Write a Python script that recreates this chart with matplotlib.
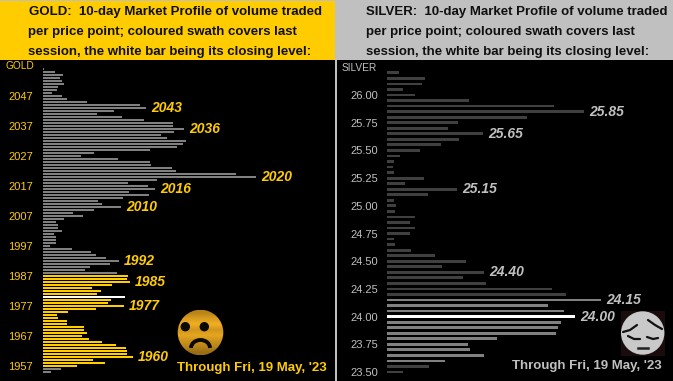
import numpy as np
import matplotlib
matplotlib.use('Agg')
import matplotlib.pyplot as plt
from matplotlib.patches import Circle, Rectangle, Arc

plt.rcParams['font.family'] = ['Liberation Sans', 'DejaVu Sans']

GOLD = '#FFCC00'
SILVER = '#C0C0C0'
W, H = 673, 381

# gold: one bar per price point, from 2056 down to 1955
gold_prices = list(range(2056, 1954, -1))
gold_volume = [1, 12, 20, 17, 19, 21, 15, 14, 9, 19, 24, 44, 97, 103, 71, 54, 79, 101,
               130, 130, 141, 131, 118, 124, 143, 140, 134, 107, 51, 38, 75, 107, 108,
               129, 133, 193, 213, 114, 85, 105, 112, 86, 106, 80, 55, 59, 78, 51, 30, 40,
               21, 13, 15, 15, 19, 11, 13, 13, 13, 7, 29, 48, 53, 63, 76, 67, 47, 42, 74,
               85, 84, 87, 69, 49, 58, 54, 82, 68, 65, 81, 53, 25, 14, 15, 24, 24, 41, 41,
               44, 39, 46, 59, 73, 83, 84, 84, 90, 50, 62, 34, 18, 8]
gold_high, gold_low, gold_close = 1987, 1957, 1980
gold_ticks = [2047, 2037, 2027, 2017, 2007, 1997, 1987, 1977, 1967, 1957]
gold_notes = [2043, 2036, 2020, 2016, 2010, 1992, 1985, 1977, 1960]

# silver: one bar every 5 cents, from 26.20 down to 23.50
silver_prices = [round(26.20 - 0.05 * i, 2) for i in range(55)]
silver_volume = [12, 38, 35, 16, 28, 82, 167, 197, 140, 71, 61, 96, 72, 54, 33, 13, 7, 6, 7,
                 37, 18, 70, 41, 7, 9, 8, 28, 23, 28, 23, 7, 8, 24, 48, 79, 55, 97, 76, 99,
                 165, 179, 214, 161, 177, 188, 174, 171, 169, 110, 81, 83, 97, 58, 42, 16]
silver_high, silver_low, silver_close = 24.15, 23.60, 24.00
silver_ticks = [26.00, 25.75, 25.50, 25.25, 25.00, 24.75, 24.50, 24.25, 24.00, 23.75, 23.50]
silver_notes = [25.85, 25.65, 25.15, 24.40, 24.15, 24.00]

header_lines = ['10-day Market Profile of volume traded',
                'per price point; coloured swath covers last',
                'session, the white bar being its closing level:']
through = "Through Fri, 19 May, '23"


def panel(fig, left, right, label_pad):
    ax = fig.add_axes([left / W, 0, (right - left) / W, (H - 60) / H])
    ax.set_facecolor('none')
    ax.set_xlim(0, right - left)
    for s in ax.spines.values():
        s.set_visible(False)
    ax.xaxis.set_visible(False)
    ax.tick_params(axis='y', length=0, pad=label_pad, labelsize=8)
    return ax


fig = plt.figure(figsize=(W / 100, H / 100), dpi=100, facecolor='black')

# gold panel
ax = panel(fig, 43, 335, 7.2)
ax.set_ylim(1952, 2059)
colors = ['white' if p == gold_close else GOLD if gold_low <= p <= gold_high else '#808080'
          for p in gold_prices]
ax.barh(gold_prices, gold_volume, height=0.67, color=colors, linewidth=0)
ax.set_yticks(gold_ticks, [str(t) for t in gold_ticks], color=GOLD)
for p in gold_notes:
    v = gold_volume[gold_prices.index(p)]
    ax.annotate(str(p), (v, p), xytext=(3.6, 0), textcoords='offset points', color=GOLD,
                fontsize=10, fontweight='bold', fontstyle='italic', va='center')

# silver panel
ax = panel(fig, 387, 673, 6.5)
ax.set_ylim(23.419, 26.316)
colors = []
for p in silver_prices:
    if p == silver_close:
        colors.append('white')
    elif silver_low <= p <= silver_high:
        colors.append('#808080')
    else:
        colors.append('#404040')
ax.barh(silver_prices, silver_volume, height=0.025, color=colors, linewidth=0)
ax.set_yticks(silver_ticks, ['%.2f' % t for t in silver_ticks], color=SILVER)
for p in silver_notes:
    v = silver_volume[silver_prices.index(p)]
    ax.annotate('%.2f' % p, (v, p), xytext=(3.6, 0), textcoords='offset points', color=SILVER,
                fontsize=10, fontweight='bold', fontstyle='italic', va='center')

# everything else sits on a pixel overlay
ov = fig.add_axes([0, 0, 1, 1], facecolor='none')
ov.set_xlim(0, W)
ov.set_ylim(H, 0)
ov.axis('off')
ov.add_patch(Rectangle((0, 0), W, 60, color=SILVER, lw=0))
ov.add_patch(Rectangle((0, 1), 335, 59, color=GOLD, lw=0))
ov.add_patch(Rectangle((335, 60), 1.5, H - 60, color=SILVER, lw=0))

for i, line in enumerate(header_lines):
    y = 12 + 20 * i
    first = 'GOLD:  ' + line if i == 0 else line
    ov.text(29 if i == 0 else 28.5, y, first, fontsize=9.5, fontweight='bold', color='#101010', va='center')
    first = 'SILVER:  ' + line if i == 0 else line
    ov.text(365.5, y, first, fontsize=9.5, fontweight='bold', color='#101010', va='center')

ov.text(177, 368, through, fontsize=9.5, fontweight='bold', color=GOLD, va='center')
ov.text(512, 366, through, fontsize=9.5, fontweight='bold', color=SILVER, va='center')
ov.text(5, 66, 'GOLD', fontsize=7.3, color=GOLD, va='center')
ov.text(342, 68, 'SILVER', fontsize=7.3, color=SILVER, va='center')

# sad gold face
grad = np.array([[0.72], [0.85], [0.95], [0.82], [0.9], [0.8], [0.72], [0.6]])
shade = np.dstack([grad, grad * 0.72, grad * 0.14])
im = ov.imshow(shade, extent=(177, 224, 355, 310), aspect='auto', interpolation='bilinear', zorder=3)
im.set_clip_path(Circle((200.5, 332.5), 22.8, transform=ov.transData))
ov.set_xlim(0, W)
ov.set_ylim(H, 0)
ov.add_patch(Circle((185.3, 326.7), 4, color='#0a0a00', zorder=4))
ov.add_patch(Circle((204.3, 326.7), 4, color='#0a0a00', zorder=4))
ov.add_patch(Arc((200.5, 348), 19, 16, theta1=180, theta2=360, color='#0a0a00', lw=2.8, zorder=4))

# pensive silver face
ov.add_patch(Rectangle((621, 311), 44, 45, color='#1a0c0c', lw=0, zorder=3))
ov.add_patch(Circle((642.7, 333), 21.7, color='#C9C9C9', lw=0, zorder=3))
for xs, ys in [((623, 630, 637), (332, 330, 325)), ((648, 655, 662), (320, 325, 329)),
               ((628, 634, 640), (336, 339, 339)), ((647, 653, 658), (337, 339, 338))]:
    ov.plot(xs, ys, color='#111111', lw=1.6, zorder=4, solid_capstyle='round')
ov.plot((638, 648), (347.5, 347.5), color='#222222', lw=1.8, zorder=4)

fig.savefig('out.png', dpi=100, facecolor='black')
